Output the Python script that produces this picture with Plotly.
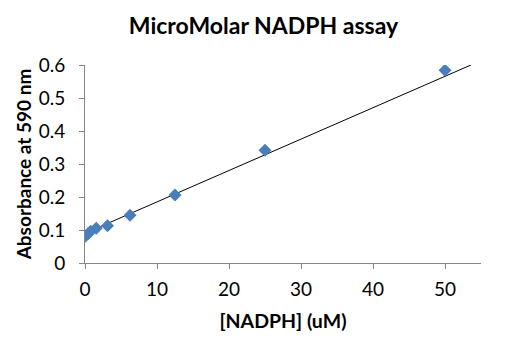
import plotly.graph_objects as go

nadph_um = [0, 0.39, 0.78, 1.56, 3.125, 6.25, 12.5, 25, 50]
absorbance = [0.080, 0.088, 0.096, 0.105, 0.113, 0.145, 0.206, 0.342, 0.584]
trendline_x = [0, 53.6]
trendline_y = [0.090, 0.600]
x_ticks = [0, 10, 20, 30, 40, 50]
y_ticks = [0, 0.1, 0.2, 0.3, 0.4, 0.5, 0.6]
y_tick_text = ["0", "0.1", "0.2", "0.3", "0.4", "0.5", "0.6"]

FONT = "Lato, Carlito, Calibri, Open Sans, sans-serif"

fig = go.Figure()
fig.add_trace(go.Scatter(x=trendline_x, y=trendline_y, mode="lines",
                         line=dict(color="black", width=1), hoverinfo="skip"))
fig.add_trace(go.Scatter(x=nadph_um, y=absorbance, mode="markers",
                         marker=dict(symbol="diamond", size=10, color="#4a7ebb")))

axis_font = dict(family=FONT, size=19, color="black")
fig.update_layout(
    width=511, height=362,
    margin=dict(l=77, r=38, t=57, b=107),
    paper_bgcolor="white", plot_bgcolor="white",
    showlegend=False,
    title=dict(text="<b>MicroMolar NADPH assay</b>", x=0.5, xanchor="center",
               y=1 - 18 / 362, yanchor="middle",
               font=dict(family=FONT, size=23, color="black")),
    xaxis=dict(range=[0, 55], tickvals=x_ticks, showgrid=False, zeroline=False,
               showline=True, linecolor="#868686", linewidth=1,
               ticks="outside", ticklen=5, tickcolor="#868686",
               tickfont=axis_font, automargin=False, ticklabelstandoff=4,
               title=dict(text="<b>[NADPH] (uM)</b>", standoff=15,
                          font=dict(family=FONT, size=19.5, color="black"))),
    yaxis=dict(range=[0, 0.6], tickvals=y_ticks, ticktext=y_tick_text,
               showgrid=False, zeroline=False,
               showline=True, linecolor="#868686", linewidth=1,
               ticks="outside", ticklen=5, tickcolor="#868686",
               tickfont=axis_font, automargin=False, ticklabelstandoff=10,
               title=dict(text="<b>Absorbance at 590 nm</b>", standoff=2,
                          font=dict(family=FONT, size=19, color="black"))),
)
fig.write_html("out.html")
